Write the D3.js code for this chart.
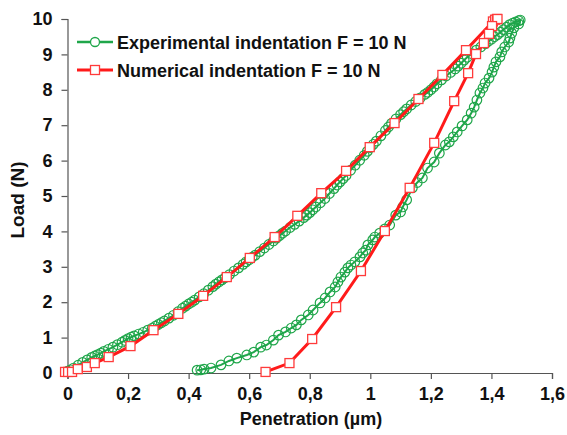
<!DOCTYPE html>
<html><head><meta charset="utf-8">
<script src="https://cdn.jsdelivr.net/npm/d3@7"></script>
<style>body{margin:0;background:#fff}svg{display:block}text{font-family:"Liberation Sans",Arial,sans-serif;font-weight:bold;fill:#111}</style>
</head><body>
<svg id="c" width="567" height="435"></svg>
<script>
// Experimental indentation (loading then unloading)
const expPenetration = [
0.000,0.010,0.020,0.035,0.050,0.065,0.080,0.090,0.100,0.110,0.120,0.135,0.150,0.165,0.180,0.190,0.200,0.210,0.220,0.235,
0.250,0.265,0.280,0.290,0.300,0.310,0.320,0.335,0.350,0.365,0.380,0.390,0.400,0.410,0.420,0.435,0.450,0.465,0.480,0.490,
0.500,0.510,0.520,0.535,0.550,0.565,0.580,0.590,0.600,0.610,0.620,0.635,0.650,0.665,0.680,0.690,0.700,0.710,0.720,0.735,
0.750,0.765,0.780,0.790,0.800,0.810,0.820,0.835,0.850,0.865,0.880,0.890,0.900,0.910,0.920,0.935,0.950,0.965,0.980,0.990,
1.000,1.010,1.020,1.035,1.050,1.060,1.070,1.085,1.100,1.110,1.120,1.135,1.150,1.165,1.180,1.190,1.200,1.210,1.220,1.235,
1.250,1.265,1.280,1.290,1.300,1.310,1.320,1.335,1.350,1.365,1.380,1.390,1.400,1.410,1.420,1.430,1.440,1.450,1.460,1.470,
1.480,1.490,
1.495,1.490,1.474,1.467,1.461,1.457,1.444,1.434,1.428,1.415,1.408,1.402,1.392,1.379,1.372,1.362,1.352,1.343,1.333,1.320,
1.303,1.287,1.274,1.261,1.248,1.228,1.211,1.189,1.172,1.155,1.139,1.120,1.107,1.100,1.084,1.064,1.048,1.031,1.015,1.008,
0.992,0.985,0.975,0.966,0.949,0.936,0.926,0.916,0.903,0.893,0.884,0.867,0.851,0.834,0.811,0.795,0.772,0.756,0.739,0.720,
0.697,0.680,0.657,0.638,0.615,0.592,0.559,0.533,0.507,0.474,0.451,0.440,0.428];
const expLoad = [
0.05,0.09,0.14,0.22,0.30,0.37,0.44,0.48,0.52,0.56,0.61,0.67,0.73,0.80,0.87,0.92,0.97,1.01,1.05,1.10,
1.15,1.21,1.27,1.32,1.37,1.42,1.47,1.55,1.63,1.73,1.83,1.89,1.95,2.00,2.06,2.15,2.24,2.34,2.44,2.51,
2.57,2.63,2.69,2.78,2.88,2.97,3.07,3.14,3.20,3.27,3.33,3.43,3.53,3.63,3.73,3.81,3.88,3.95,4.01,4.11,
4.20,4.29,4.39,4.46,4.53,4.61,4.69,4.81,4.93,5.07,5.21,5.31,5.40,5.49,5.58,5.73,5.87,6.01,6.15,6.26,
6.37,6.46,6.55,6.70,6.85,6.95,7.05,7.18,7.30,7.38,7.46,7.57,7.67,7.77,7.87,7.93,8.00,8.08,8.17,8.28,
8.39,8.49,8.59,8.67,8.75,8.84,8.92,9.02,9.12,9.21,9.30,9.37,9.43,9.50,9.56,9.63,9.70,9.77,9.84,9.88,
9.92,9.95,
9.97,9.86,9.75,9.60,9.46,9.35,9.21,9.07,8.93,8.79,8.64,8.50,8.33,8.19,8.05,7.91,7.71,7.51,7.34,7.15,
6.98,6.81,6.67,6.53,6.44,6.21,5.96,5.79,5.51,5.38,5.23,4.89,4.69,4.55,4.46,4.18,4.07,3.95,3.84,3.76,
3.62,3.47,3.39,3.28,3.14,3.05,2.97,2.85,2.71,2.57,2.43,2.29,2.12,1.98,1.78,1.64,1.50,1.36,1.27,1.16,
1.07,0.93,0.79,0.73,0.59,0.51,0.42,0.34,0.23,0.14,0.11,0.09,0.08];

// Numerical indentation (loading then unloading)
const numPenetration = [-0.008,0.002,0.015,0.034,0.064,0.090,0.136,0.208,0.284,0.366,0.448,0.526,0.602,0.684,0.759,0.838,0.920,0.998,1.080,1.159,1.238,1.316,1.405,1.412,1.418,
1.420,1.402,1.392,1.375,1.349,1.323,1.277,1.211,1.130,1.048,0.969,0.887,0.808,0.733,0.654];
const numLoad = [0.03,0.03,0.03,0.11,0.17,0.28,0.45,0.76,1.21,1.67,2.18,2.71,3.25,3.84,4.44,5.08,5.71,6.38,7.06,7.74,8.42,9.12,9.93,9.98,10.0,
10.0,9.80,9.58,9.32,9.01,8.47,7.68,6.50,5.23,4.01,2.88,1.86,0.96,0.28,0.03];

const xTicks = [0,0.2,0.4,0.6,0.8,1,1.2,1.4,1.6];
const yTicks = [0,1,2,3,4,5,6,7,8,9,10];
const legendLabels = ["Experimental indentation F = 10 N","Numerical indentation F = 10 N"];
const xTitle = "Penetration (µm)", yTitle = "Load (N)";

const green = "#1fa64a", red = "#ff1a1a";
const svg = d3.select("#c");
const x = d3.scaleLinear().domain([0,1.6]).range([67.5,552]);
const y = d3.scaleLinear().domain([0,10]).range([373,19]);
const fmt = d => String(d).replace(".", ",");

const xAxis = svg.append("g").attr("transform","translate(0,373)")
  .call(d3.axisBottom(x).tickValues(xTicks).tickFormat(fmt).tickSizeOuter(0).tickSize(6).tickPadding(8));
const yAxis = svg.append("g").attr("transform","translate(67.5,0)")
  .call(d3.axisLeft(y).tickValues(yTicks).tickFormat(fmt).tickSizeOuter(0).tickSize(6).tickPadding(9));
[xAxis,yAxis].forEach(a=>{
  a.selectAll("path,line").attr("stroke","#555").attr("stroke-width",1.2);
  a.selectAll("text").attr("font-size",18).attr("font-family","Liberation Sans, Arial, sans-serif").attr("font-weight","bold").attr("fill","#111");
});

svg.append("text").attr("x",311).attr("y",425).attr("text-anchor","middle").attr("font-size",18).text(xTitle);
svg.append("text").attr("transform","translate(24,200) rotate(-90)").attr("text-anchor","middle").attr("font-size",19).text(yTitle);

const expData = expPenetration.map((p,i)=>[p,expLoad[i]]);
const numData = numPenetration.map((p,i)=>[p,numLoad[i]]);
const line = d3.line().x(d=>x(d[0])).y(d=>y(d[1]));

svg.append("path").datum(expData).attr("d",line).attr("fill","none").attr("stroke",green).attr("stroke-width",2);
svg.append("g").selectAll("circle").data(expData).join("circle")
  .attr("cx",d=>x(d[0])).attr("cy",d=>y(d[1])).attr("r",4.8)
  .attr("fill","none").attr("stroke",green).attr("stroke-width",1.2);

svg.append("path").datum(numData).attr("d",line).attr("fill","none").attr("stroke",red).attr("stroke-width",3);
svg.append("g").selectAll("rect").data(numData).join("rect")
  .attr("x",d=>x(d[0])-4.5).attr("y",d=>y(d[1])-4.5).attr("width",9).attr("height",9)
  .attr("fill","#fff").attr("stroke","#ff3b3b").attr("stroke-width",1.3);

// legend
const lg = svg.append("g");
[[green,"circle"],[red,"rect"]].forEach(([c,shape],i)=>{
  const ly = 42 + i*28;
  lg.append("line").attr("x1",77).attr("x2",113).attr("y1",ly).attr("y2",ly).attr("stroke",c).attr("stroke-width",i?3:2.5);
  if(shape==="circle") lg.append("circle").attr("cx",95).attr("cy",ly).attr("r",4.5).attr("fill","#fff").attr("stroke",c).attr("stroke-width",1.3);
  else lg.append("rect").attr("x",90.5).attr("y",ly-4.5).attr("width",9).attr("height",9).attr("fill","#fff").attr("stroke","#ff3b3b").attr("stroke-width",1.3);
  lg.append("text").attr("x",117).attr("y",ly+6.5).attr("font-size",18).text(legendLabels[i]);
});
</script>
</body></html>
